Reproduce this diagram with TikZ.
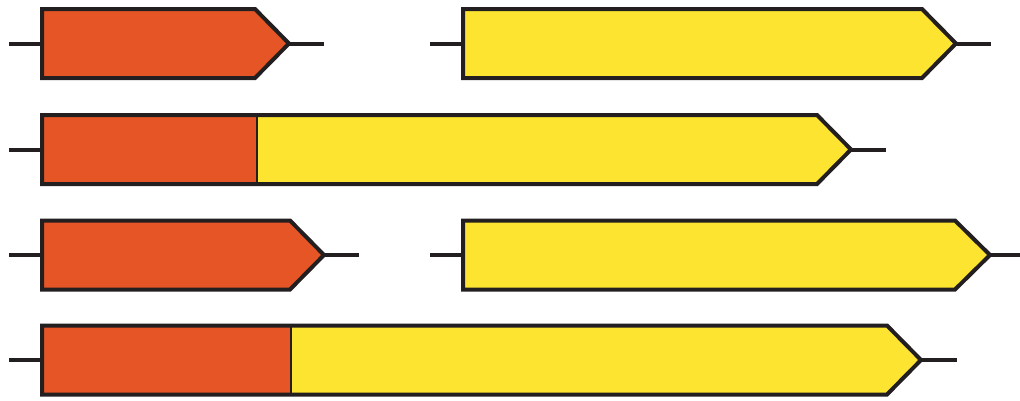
\documentclass[tikz,border=0pt]{standalone}
\begin{document}
\begin{tikzpicture}[x=1pt,y=-1pt,
  gene/.style={draw=gstroke, line width=4pt, line join=miter},
  wire/.style={draw=gstroke, line width=4pt},
  seam/.style={draw=gstroke, line width=2pt}]
\definecolor{gorange}{HTML}{E65525}
\definecolor{gyellow}{HTML}{FCE430}
\definecolor{gstroke}{HTML}{231F20}
\useasboundingbox (0,0) rectangle (1020,400);
% Row 1
\coordinate (a1) at (9,43.5); \coordinate (a2) at (42,43.5);
\coordinate (a3) at (289,43.5); \coordinate (a4) at (324,43.5);
\draw[wire] (a1) -- (a2); \draw[wire] (a3) -- (a4);
\draw[gene, fill=gorange] (42,9) -- (255,9) -- (a3) -- (255,78) -- (42,78) -- cycle;
\coordinate (b1) at (430,43.5); \coordinate (b2) at (463,43.5);
\coordinate (b3) at (956,43.5); \coordinate (b4) at (991,43.5);
\draw[wire] (b1) -- (b2); \draw[wire] (b3) -- (b4);
\draw[gene, fill=gyellow] (463,9) -- (922,9) -- (b3) -- (922,78) -- (463,78) -- cycle;
% Row 2
\coordinate (c1) at (9,149.5); \coordinate (c2) at (42,149.5);
\coordinate (c3) at (851,149.5); \coordinate (c4) at (886,149.5);
\draw[wire] (c1) -- (c2); \draw[wire] (c3) -- (c4);
\fill[gorange] (42,115) rectangle (257,184);
\fill[gyellow] (257,115) -- (817,115) -- (c3) -- (817,184) -- (257,184) -- cycle;
\draw[seam] (257,115) -- (257,184);
\draw[gene] (42,115) -- (817,115) -- (c3) -- (817,184) -- (42,184) -- cycle;
% Row 3
\coordinate (d1) at (9,255); \coordinate (d2) at (42,255);
\coordinate (d3) at (324,255); \coordinate (d4) at (359,255);
\draw[wire] (d1) -- (d2); \draw[wire] (d3) -- (d4);
\draw[gene, fill=gorange] (42,220.5) -- (290,220.5) -- (d3) -- (290,289.5) -- (42,289.5) -- cycle;
\coordinate (e1) at (430,255); \coordinate (e2) at (463,255);
\coordinate (e3) at (990,255); \coordinate (e4) at (1020,255);
\draw[wire] (e1) -- (e2); \draw[wire] (e3) -- (e4);
\draw[gene, fill=gyellow] (463,220.5) -- (955,220.5) -- (e3) -- (955,289.5) -- (463,289.5) -- cycle;
% Row 4
\coordinate (f1) at (9,360); \coordinate (f2) at (42,360);
\coordinate (f3) at (921,360); \coordinate (f4) at (957,360);
\draw[wire] (f1) -- (f2); \draw[wire] (f3) -- (f4);
\fill[gorange] (42,325.5) rectangle (291,394.5);
\fill[gyellow] (291,325.5) -- (887,325.5) -- (f3) -- (887,394.5) -- (291,394.5) -- cycle;
\draw[seam] (291,325.5) -- (291,394.5);
\draw[gene] (42,325.5) -- (887,325.5) -- (f3) -- (887,394.5) -- (42,394.5) -- cycle;
\end{tikzpicture}
\end{document}
